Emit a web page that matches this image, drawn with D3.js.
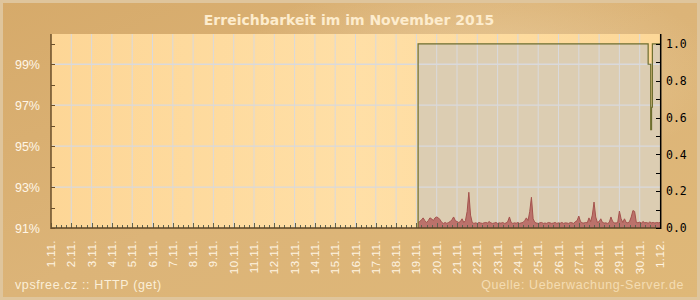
<!DOCTYPE html>
<html><head><meta charset="utf-8">
<script src="https://cdn.jsdelivr.net/npm/d3@7/dist/d3.min.js"></script>
<style>html,body{margin:0;padding:0;background:#d9b070;}svg{display:block;}</style>
</head><body>
<script>
// ---- data ----
const title = "Erreichbarkeit im im November 2015";
const footerLeft = "vpsfree.cz :: HTTP (get)";
const footerRight = "Quelle: Ueberwachung-Server.de";
const leftTicks = [91, 93, 95, 97, 99];
const leftMinorTicks = [91, 92, 93, 94, 95, 96, 97, 98, 99, 100];
const rightTicks = [0.0, 0.2, 0.4, 0.6, 0.8, 1.0];
const rightMinorTicks = [0.1, 0.3, 0.5, 0.7, 0.9];
const dayLabels = ["1.11.","2.11.","3.11.","4.11.","5.11.","6.11.","7.11.","8.11.","9.11.","10.11.",
  "11.11.","12.11.","13.11.","14.11.","15.11.","16.11.","17.11.","18.11.","19.11.","20.11.",
  "21.11.","22.11.","23.11.","24.11.","25.11.","26.11.","27.11.","28.11.","29.11.","30.11.","1.12."];
const dayDates = ["2015-11-01","2015-11-02","2015-11-03","2015-11-04","2015-11-05","2015-11-06","2015-11-07",
  "2015-11-08","2015-11-09","2015-11-10","2015-11-11","2015-11-12","2015-11-13","2015-11-14","2015-11-15",
  "2015-11-16","2015-11-17","2015-11-18","2015-11-19","2015-11-20","2015-11-21","2015-11-22","2015-11-23",
  "2015-11-24","2015-11-25","2015-11-26","2015-11-27","2015-11-28","2015-11-29","2015-11-30","2015-12-01"];
// availability (%), step series
const availTimes = ["2015-11-19T02:00","2015-11-30T10:00","2015-11-30T13:00","2015-11-30T14:00","2015-11-30T15:00","2015-12-01T00:00"];
const availValues = [100, 99.0, 95.8, 96.9, 100, 100];
// response time (s), every 2 hours starting 2015-11-19 02:00
const respStart = "2015-11-19T02:00";
const respValues = [
 0.030,0.035,0.045,0.055,0.040,0.030,0.040,0.055,0.050,0.040,
 0.055,0.060,0.055,0.045,0.030,0.025,0.030,0.025,0.030,0.035,
 0.045,0.060,0.040,0.035,0.030,0.035,0.050,0.030,0.040,0.090,
 0.194,0.070,0.030,0.025,0.028,0.025,0.030,0.027,0.025,0.028,
 0.030,0.027,0.035,0.028,0.025,0.027,0.030,0.025,0.028,0.026,
 0.030,0.025,0.027,0.035,0.060,0.030,0.025,0.028,0.026,0.030,
 0.025,0.028,0.030,0.040,0.055,0.040,0.090,0.167,0.050,0.030,
 0.027,0.025,0.028,0.030,0.025,0.027,0.025,0.030,0.028,0.025,
 0.027,0.030,0.025,0.028,0.026,0.030,0.025,0.028,0.027,0.025,
 0.030,0.028,0.025,0.035,0.040,0.065,0.035,0.028,0.027,0.030,
 0.028,0.055,0.035,0.070,0.141,0.060,0.030,0.035,0.050,0.030,
 0.027,0.028,0.025,0.030,0.060,0.035,0.028,0.027,0.030,0.092,
 0.050,0.030,0.050,0.030,0.028,0.035,0.060,0.095,0.090,0.030,
 0.028,0.032,0.027,0.035,0.028,0.030,0.026,0.033,0.028,0.030,
 0.027,0.030,0.028,0.030];

// ---- drawing ----
const W = 700, H = 300;
const svg = d3.select("body").append("svg").attr("width", W).attr("height", H);
const defs = svg.append("defs");
const bgG = defs.append("linearGradient").attr("id","bg").attr("x1","0").attr("y1","0").attr("x2","1").attr("y2","1");
bgG.append("stop").attr("offset","0").attr("stop-color","#d6aa6a");
bgG.append("stop").attr("offset","0.5").attr("stop-color","#dcb478");
bgG.append("stop").attr("offset","1").attr("stop-color","#dfb878");
const hl = defs.append("radialGradient").attr("id","hl").attr("cx","0.68").attr("cy","0.25").attr("r","0.35");
hl.append("stop").attr("offset","0").attr("stop-color","#f3dcb4").attr("stop-opacity",0.55);
hl.append("stop").attr("offset","1").attr("stop-color","#f3dcb4").attr("stop-opacity",0);
const pg = defs.append("linearGradient").attr("id","pbg").attr("x1","0").attr("y1","0").attr("x2","1").attr("y2","0");
pg.append("stop").attr("offset","0").attr("stop-color","#fdd696");
pg.append("stop").attr("offset","0.5").attr("stop-color","#ffdfa6");
pg.append("stop").attr("offset","1").attr("stop-color","#fdd898");

svg.append("rect").attr("width",W).attr("height",H).attr("fill","url(#bg)");
svg.append("rect").attr("width",W).attr("height",H).attr("fill","url(#hl)");
svg.append("rect").attr("x",1.5).attr("y",1.5).attr("width",W-3).attr("height",H-3)
  .attr("fill","none").attr("stroke","#dfc59c").attr("stroke-width",3);

const parse = d3.isoParse;
const x0 = 51, x1 = 660, yTop = 34, yBot = 228;
const x = d3.scaleTime().domain([parse("2015-11-01T00:00"), parse("2015-12-01T00:00")]).range([x0, x1]);
const yL = d3.scaleLinear().domain([91, 100]).range([yBot, 43.8]);
const yR = d3.scaleLinear().domain([0, 1]).range([yBot, 44]);

// plot background
svg.append("rect").attr("x",x0).attr("y",yTop).attr("width",x1-x0).attr("height",yBot-yTop).attr("fill","url(#pbg)");

// availability area
const avail = availTimes.map((t,i)=>({t:parse(t), v:availValues[i]}));
const area = d3.area().curve(d3.curveStepAfter).x(d=>x(d.t)).y0(yBot).y1(d=>yL(d.v));
svg.append("path").datum(avail).attr("d",area).attr("fill","#dccdb2");

// gridlines
const grid = svg.append("g");
dayDates.slice(1, -1).forEach(d=>{
  grid.append("line").attr("x1",x(parse(d))).attr("x2",x(parse(d))).attr("y1",yTop).attr("y2",yBot)
    .attr("stroke","#d9d9dc").attr("stroke-width",1);
});
leftTicks.slice(1).forEach(v=>{
  grid.append("line").attr("x1",x0).attr("x2",x1).attr("y1",yL(v)).attr("y2",yL(v))
    .attr("stroke","#d9d9dc").attr("stroke-width",1.3);
});

// response time area
const t0 = parse(respStart);
const resp = respValues.map((v,i)=>({t:d3.timeHour.offset(t0, 2*i), v}));
const rArea = d3.area().x(d=>x(d.t)).y0(yBot).y1(d=>yR(d.v));
svg.append("path").datum(resp).attr("d",rArea).attr("fill","#bb726b");
svg.append("path").datum(resp).attr("d",d3.line().x(d=>x(d.t)).y(d=>yR(d.v)))
  .attr("fill","none").attr("stroke","#a4524d").attr("stroke-width",1);

// availability line
const aLine = d3.line().curve(d3.curveStepAfter).x(d=>x(d.t)).y(d=>yL(d.v));
const aPts = [{t:avail[0].t, v:91}].concat(avail);
svg.append("path").datum(aPts).attr("d",aLine).attr("fill","none").attr("stroke","#6e6e2e").attr("stroke-width",1.2);

// bottom ticks (6h)
const ticks6 = d3.timeHour.every(6).range(parse("2015-11-01T00:00"), parse("2015-12-01T01:00"));
svg.append("g").selectAll("line").data(ticks6).join("line")
  .attr("x1",d=>Math.round(x(d))+0.5).attr("x2",d=>Math.round(x(d))+0.5)
  .attr("y1",yBot).attr("y2",d=>d.getHours()===0? yBot-5 : yBot-3)
  .attr("stroke","#5f6450").attr("stroke-width",1);

// axes lines
svg.append("line").attr("x1",x0).attr("x2",x1).attr("y1",yBot).attr("y2",yBot).attr("stroke","#5a4424").attr("stroke-width",1.5);
svg.append("line").attr("x1",x0).attr("x2",x0).attr("y1",yTop).attr("y2",yBot+1).attr("stroke","#6b4f2a").attr("stroke-width",1.5);
svg.append("line").attr("x1",x1+0.7).attr("x2",x1+0.7).attr("y1",yTop).attr("y2",yBot+1).attr("stroke","#000").attr("stroke-width",1.5);

// left axis ticks & labels
svg.append("g").selectAll("line").data(leftMinorTicks).join("line")
  .attr("x1",x0).attr("x2",x0+4).attr("y1",d=>Math.round(yL(d))+0.5).attr("y2",d=>Math.round(yL(d))+0.5)
  .attr("stroke","#6b4f2a").attr("stroke-width",1);
svg.append("g").selectAll("text").data(leftTicks).join("text")
  .attr("x",40).attr("y",d=>yL(d)).attr("dy","0.36em").attr("text-anchor","end")
  .attr("font-family","Liberation Sans, Arial, sans-serif").attr("font-size",12.5)
  .attr("fill","#fff6e6").text(d=>d+"%");

// right axis ticks & labels
svg.append("g").selectAll("line").data(rightTicks.concat(rightMinorTicks)).join("line")
  .attr("x1",x1-4).attr("x2",x1+0.7).attr("y1",d=>Math.round(yR(d))+0.5).attr("y2",d=>Math.round(yR(d))+0.5)
  .attr("stroke","#000").attr("stroke-width",1);
svg.append("g").selectAll("text").data(rightTicks).join("text")
  .attr("x",666).attr("y",d=>yR(d)).attr("dy","0.36em")
  .attr("font-family","DejaVu Sans Mono, monospace").attr("font-size",11.5)
  .attr("fill","#000").text(d=>d.toFixed(1));

// x labels
svg.append("g").selectAll("text").data(dayLabels).join("text")
  .attr("transform",(d,i)=>`translate(${x(parse(dayDates[i]))+4},240) rotate(-90)`)
  .attr("text-anchor","end")
  .attr("font-family","Liberation Sans, Arial, sans-serif").attr("font-size",11.5)
  .attr("letter-spacing","0.5px")
  .attr("fill","#fff4e2").text(d=>d);

// title
svg.append("text").attr("x",349).attr("y",25).attr("text-anchor","middle")
  .attr("font-family","DejaVu Sans, sans-serif").attr("font-weight","bold").attr("font-size",14)
  .attr("fill","#fdeccd").text(title);

// footers
svg.append("text").attr("x",15).attr("y",289)
  .attr("font-family","Liberation Sans, Arial, sans-serif").attr("font-size",12.5).attr("letter-spacing","0.6px")
  .attr("fill","#fbeed6").text(footerLeft);
svg.append("text").attr("x",684).attr("y",289).attr("text-anchor","end")
  .attr("font-family","Liberation Sans, Arial, sans-serif").attr("font-size",12.5).attr("letter-spacing","0.6px")
  .attr("fill","#f4dcb2").text(footerRight);
</script>
</body></html>
